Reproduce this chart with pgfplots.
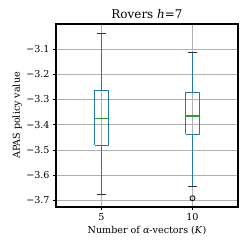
\documentclass[border=0pt]{standalone}
\usepackage{pgfplots}
\pgfplotsset{compat=1.18}
\usepackage{fontspec}
\setmainfont{DejaVu Serif}
\definecolor{cC0}{HTML}{1F77B4}
\definecolor{cC2}{HTML}{2CA02C}
\definecolor{gridc}{HTML}{B0B0B0}
\begin{document}
\begin{tikzpicture}
\begin{axis}[
  scale only axis,
  width=182bp, height=183bp,
  xmin=0.5, xmax=2.5,
  ymin=-3.727, ymax=-3.0,
  xtick={1,2}, xticklabels={5,10},
  ytick={-3.7,-3.6,-3.5,-3.4,-3.3,-3.2,-3.1},
  yticklabels={−3.7,−3.6,−3.5,−3.4,−3.3,−3.2,−3.1},
  grid=major,
  major grid style={gridc, line width=0.6pt},
  axis line style={black, line width=1.1pt},
  tick style={black, line width=0.5pt},
  tick align=outside,
  major tick length=3bp,
  xtick pos=bottom, ytick pos=left,
  ticklabel style={font=\fontsize{9.6}{11}\selectfont},
  title={Rovers \textit{h}=7},
  title style={font=\fontsize{12}{14}\selectfont, yshift=-4bp},
  xlabel={Number of \textit{α}-vectors (\textit{K})},
  ylabel={APAS policy value},
  label style={font=\fontsize{9.6}{11}\selectfont},
  xlabel style={yshift=1bp},
  ylabel style={yshift=-2.5bp},
]
% box K=5: Q1, Q3
\addplot[cC0, line width=0.8pt] coordinates {(0.925,-3.482) (1.075,-3.482) (1.075,-3.262) (0.925,-3.262) (0.925,-3.482)};
% whiskers K=5
\addplot[cC0, line width=0.8pt] coordinates {(1,-3.482) (1,-3.676)};
\addplot[cC0, line width=0.8pt] coordinates {(1,-3.262) (1,-3.038)};
% median K=5
\addplot[cC2, line width=1.5pt] coordinates {(0.925,-3.375) (1.075,-3.375)};
% box K=10
\addplot[cC0, line width=0.8pt] coordinates {(1.925,-3.437) (2.075,-3.437) (2.075,-3.270) (1.925,-3.270) (1.925,-3.437)};
\addplot[cC0, line width=0.8pt] coordinates {(2,-3.437) (2,-3.647)};
\addplot[cC0, line width=0.8pt] coordinates {(2,-3.270) (2,-3.114)};
\addplot[cC2, line width=1.5pt] coordinates {(1.925,-3.366) (2.075,-3.366)};
% outlier
\addplot[only marks, mark=o, mark size=2.5bp, black, line width=0.8pt] coordinates {(2,-3.692)};
% caps
\addplot[black!80, line width=0.8pt] coordinates {(0.95,-3.038) (1.05,-3.038)};
\addplot[black!80, line width=0.8pt] coordinates {(0.95,-3.676) (1.05,-3.676)};
\addplot[black!80, line width=0.8pt] coordinates {(1.95,-3.114) (2.05,-3.114)};
\addplot[black!80, line width=0.8pt] coordinates {(1.95,-3.647) (2.05,-3.647)};
\end{axis}
\pgfresetboundingbox
\useasboundingbox ([shift={(-56bp,-42bp)}]current axis.south west) rectangle ([shift={(11bp,24bp)}]current axis.north east);
\end{tikzpicture}
\end{document}
